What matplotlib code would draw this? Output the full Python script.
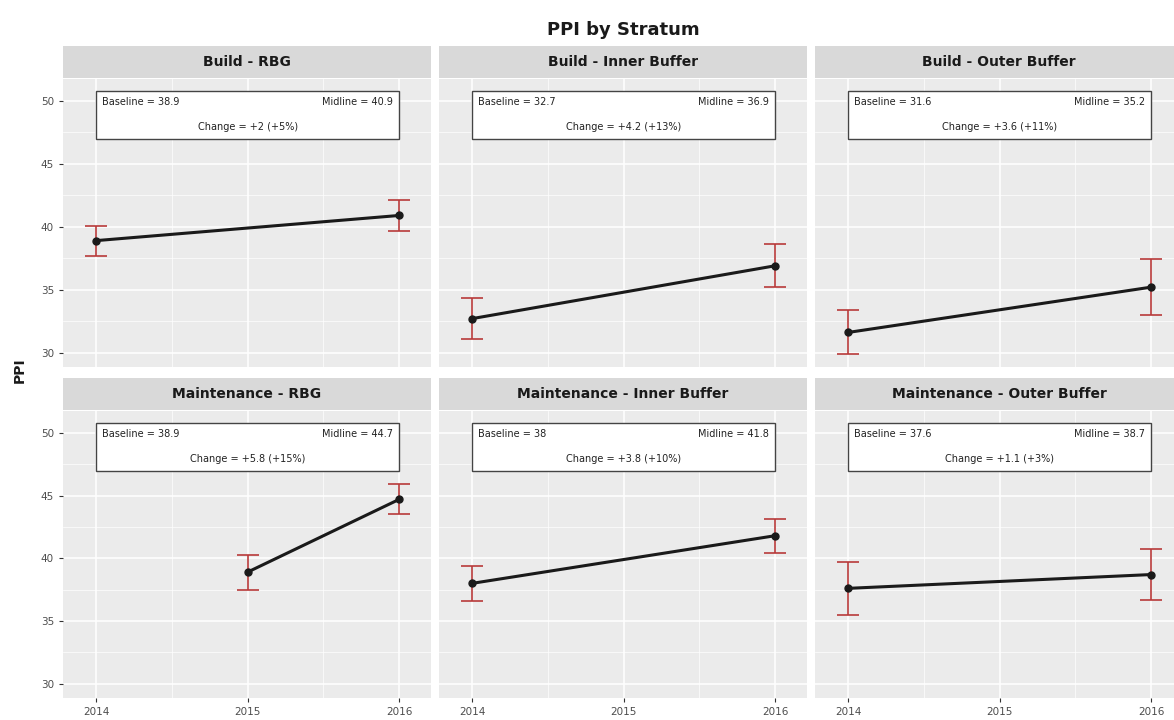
import matplotlib
matplotlib.use("Agg")
import matplotlib.pyplot as plt
from matplotlib.patches import Rectangle

# PPI survey results by phase and stratum
phases = ["Build", "Build", "Build", "Maintenance", "Maintenance", "Maintenance"]
strata = ["RBG", "Inner Buffer", "Outer Buffer", "RBG", "Inner Buffer", "Outer Buffer"]
baseline_year = [2014, 2014, 2014, 2015, 2014, 2014]
midline_year = [2016, 2016, 2016, 2016, 2016, 2016]
baseline = [38.9, 32.7, 31.6, 38.9, 38.0, 37.6]
midline = [40.9, 36.9, 35.2, 44.7, 41.8, 38.7]
baseline_err = [1.2, 1.6, 1.75, 1.4, 1.4, 2.1]
midline_err = [1.2, 1.7, 2.2, 1.2, 1.35, 2.0]

year_ticks = [2014, 2015, 2016]
year_labels = ["2014", "2015", "2016"]
ppi_ticks = [30, 35, 40, 45, 50]

W, H = 1174, 720
fig = plt.figure(figsize=(W / 100, H / 100), dpi=100)
fig.patch.set_facecolor("white")

col_x0 = [63, 439, 815]
panel_w = 368
rows = [(79, 367, 46, 78), (411, 698, 378, 410)]  # panel top/bottom, strip top/bottom


def fbox(x0, y0, x1, y1):
    return [x0 / W, 1 - y1 / H, (x1 - x0) / W, (y1 - y0) / H]


for i in range(6):
    r, c = divmod(i, 3)
    py0, py1, sy0, sy1 = rows[r]
    x0 = col_x0[c]
    ax = fig.add_axes(fbox(x0, py0, x0 + panel_w, py1))
    sax = fig.add_axes(fbox(x0, sy0, x0 + panel_w, sy1))
    sax.set_facecolor("#D9D9D9")
    sax.set_xticks([]); sax.set_yticks([])
    for s in sax.spines.values():
        s.set_visible(False)
    sax.text(0.5, 0.5, f"{phases[i]} - {strata[i]}", ha="center", va="center",
             fontsize=10, fontweight="bold", color="#1A1A1A", transform=sax.transAxes)

    ax.set_facecolor("#EBEBEB")
    for s in ax.spines.values():
        s.set_visible(False)
    ax.set_xlim(2013.78, 2016.21)
    ax.set_ylim(28.85, 51.75)
    ax.set_xticks(year_ticks)
    ax.set_xticks([2014.5, 2015.5], minor=True)
    ax.set_yticks(ppi_ticks)
    ax.set_yticks([32.5, 37.5, 42.5, 47.5], minor=True)
    ax.grid(which="major", color="white", lw=1.1)
    ax.grid(which="minor", color="white", lw=0.5)
    ax.set_axisbelow(True)
    ax.tick_params(which="major", length=3, color="#333333", labelcolor="#4D4D4D", labelsize=7.5)
    ax.tick_params(which="minor", length=0)
    if r == 1:
        ax.set_xticklabels(year_labels)
    else:
        ax.set_xticklabels([])
        ax.tick_params(axis="x", which="major", length=0)
    if c == 0:
        ax.set_yticklabels([str(t) for t in ppi_ticks])
    else:
        ax.set_yticklabels([])
        ax.tick_params(axis="y", which="major", length=0)

    xs = [baseline_year[i], midline_year[i]]
    ys = [baseline[i], midline[i]]
    es = [baseline_err[i], midline_err[i]]
    ax.errorbar(xs, ys, yerr=es, fmt="none", ecolor="#B83A3A", elinewidth=1.2,
                capsize=8, capthick=1.2, zorder=3)
    ax.plot(xs, ys, color="#1A1A1A", lw=2.2, zorder=4)
    ax.plot(xs, ys, "o", color="#1A1A1A", ms=5, zorder=5)

    # summary box
    change = round(midline[i] - baseline[i], 1)
    pct = round(change / baseline[i] * 100)
    ax.add_patch(Rectangle((2014, 47.0), 2, 3.8, facecolor="white",
                           edgecolor="#444444", lw=1, zorder=6))
    ax.text(2014.04, 49.95, f"Baseline = {baseline[i]:g}", ha="left", va="center",
            fontsize=7, color="#222222", zorder=7)
    ax.text(2015.96, 49.95, f"Midline = {midline[i]:g}", ha="right", va="center",
            fontsize=7, color="#222222", zorder=7)
    ax.text(2015, 47.95, f"Change = {change:+g} ({pct:+d}%)", ha="center", va="center",
            fontsize=7, color="#222222", zorder=7)

fig.text(623 / W, 1 - 30 / H, "PPI by Stratum", ha="center", va="center",
         fontsize=13, fontweight="bold", color="#1A1A1A")
fig.text(20 / W, 1 - 370 / H, "PPI", ha="center", va="center", rotation=90,
         fontsize=10, fontweight="bold", color="#1A1A1A")

fig.savefig("out.png", dpi=100)
